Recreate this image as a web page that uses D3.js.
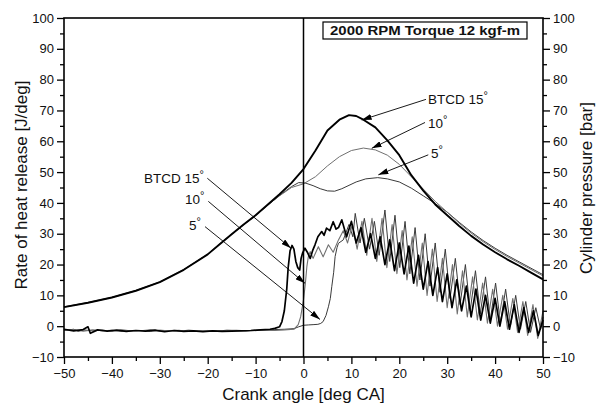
<!DOCTYPE html>
<html><head><meta charset="utf-8">
<script src="https://cdn.jsdelivr.net/npm/d3@7"></script>
<style>body{margin:0;background:#fff}text{font-family:"Liberation Sans",Arial,sans-serif;fill:#111}</style>
</head><body><svg id="c" width="604" height="406"></svg>
<script>
// ---------- data ----------
const xTicks = [-50,-40,-30,-20,-10,0,10,20,30,40,50];
const yTicks = [-10,0,10,20,30,40,50,60,70,80,90,100];
const chartTitle = "2000 RPM Torque 12 kgf-m";
const xLabel = "Crank angle [deg CA]";
const yLeftLabel = "Rate of heat release [J/deg]";
const yRightLabel = "Cylinder pressure [bar]";

// Cylinder pressure [bar]
const p15Ang = [-50,-45,-40,-35,-30,-25,-20,-17.5,-15,-12.5,-10,-7.5,-5,-2.5,0,2.5,5,7.5,9.5,11,12.5,15,17.5,20,22.5,25,27.5,30,32.5,35,37.5,40,42.5,45,47.5,50];
const p15 = [6.2,7.6,9.3,11.5,14.3,18.3,23.3,26.6,29.8,33.0,36.0,39.4,42.8,46.5,51.0,57.0,63.5,67.0,68.5,68.2,67.0,64.5,60.3,55.5,49.0,44.0,39.5,36.0,32.5,29.3,26.5,24.0,21.7,19.6,17.4,15.2];
const p10Ang = [-50,-45,-40,-35,-30,-25,-20,-17.5,-15,-12.5,-10,-7.5,-5,-2.5,0,2.5,5,7.5,10,12.5,15,17.5,20,22.5,25,27.5,30,32.5,35,37.5,40,42.5,45,47.5,50];
const p10 = [6.3,7.7,9.4,11.6,14.4,18.4,23.4,26.7,29.9,33.0,36.0,39.3,42.3,45.0,46.2,48.5,52.0,55.0,57.0,57.8,57.2,55.5,52.5,48.5,44.5,40.5,37.0,33.4,30.2,27.4,24.9,22.6,20.5,18.4,16.3];
const p5Ang = [-50,-45,-40,-35,-30,-25,-20,-17.5,-15,-12.5,-10,-7.5,-5,-2.5,-1,0.5,2,3.5,5,6.5,8,9.5,11,13,15.5,17.5,20,22.5,25,27.5,30,32.5,35,37.5,40,42.5,45,47.5,50];
const p5 = [6.2,7.6,9.3,11.5,14.3,18.3,23.3,26.6,29.8,32.9,35.9,39.2,42.4,45.3,46.6,46.4,45.6,44.6,43.9,43.8,44.6,45.7,46.8,47.8,48.2,47.8,46.8,44.8,42.3,39.8,37.0,33.7,30.6,27.8,25.3,23.0,20.9,18.8,16.7];

// Rate of heat release [J/deg]
const hr15Ang = [-50,-48,-46,-45,-44.5,-43,-41,-39,-37,-35,-33,-31,-29,-27,-25,-23,-21,-19,-17,-15,-13,-11,-9,-7,-6,-5,-4.5,-4,-3.5,-3.2,-2.8,-2.4,-2.0,-1.6,-1.2,-0.8,-0.5,-0.2,0.3,0.8,1.4,1.9,2.4,3.0,3.8,4.3,4.8,5.5,6.2,6.8,7.3,8.0,9,10,11,12,13,14,15,16,17,18,19,20,21,22,23,24,25,26,27,28,29,30,31,32,33,34,35,36,37,38,39,40,41,42,43,44,45,46,47,48,49,50];
const hr15 = [-1.0,-1.5,-1.1,-0.2,-2.3,-1.2,-1.6,-1.3,-1.7,-1.4,-1.6,-1.3,-1.8,-1.4,-1.7,-1.5,-1.8,-1.5,-1.7,-1.6,-1.5,-1.4,-1.2,-1.0,-0.7,-0.2,1.5,5,12,19,24.5,26.2,25,21,19,18.2,22,23.7,25.3,24,22,24.5,26.4,29,30.7,29.5,31.8,31,33.9,31.5,32,34.5,29,34,27,32,24,30,22,29,20,28,18,27,17,26,14,23,12,21,10,19,8,17,6,15,5,13,3,12,2,10,1,9,0,8,-1,7,-2,6,-2,5,-3,2];
const hr10Ang = [-50,-48,-46,-44,-42,-40,-38,-36,-34,-32,-30,-28,-26,-24,-22,-20,-18,-16,-14,-12,-10,-8,-6,-4,-2,-1.1,-0.6,0,0.4,0.7,1.0,1.4,2.0,3.1,4.1,5.2,6.2,7.3,8.3,9.2,10.2,11.2,12.2,13.2,14.3,15.3,16.4,17.4,18.5,19.5,20.6,21.6,22.7,23.7,24.8,25.8,26.9,27.9,29.0,30.0,31.1,32.1,33.2,34.2,35.3,36.3,37.4,38.4,39.5,40.5,41.6,42.6,43.7,44.7,45.8,46.8,47.9,48.9,50];
const hr10 = [-1.3,-1.1,-1.6,-1.2,-1.5,-1.3,-1.7,-1.4,-1.5,-1.2,-1.6,-1.4,-1.3,-1.7,-1.5,-1.4,-1.6,-1.5,-1.3,-1.5,-1.4,-1.3,-1.4,-1.2,-1.0,0.5,3,8.5,14,19.3,22.5,24.2,22,25.8,22.5,26.4,24,28,31,27,33,25,34,23,35,21,35,19,33,17,31,15,29,13,27,10,25,8,22,6,20,4,18,3,16,2,14,1,12,0,10,-1,9,-2,8,-3,7,-4,5];
const hr5Ang = [-50,-48,-47,-46,-44,-42,-40,-38,-36,-34,-32,-30,-28,-26,-24,-22,-20,-18,-16,-14,-12,-10,-8,-6,-4,-2,-1,0,1,2,3,3.6,4.1,4.7,5.2,5.6,5.9,6.3,6.6,7.0,7.3,8.3,9.5,10.3,10.8,11.8,12.7,13.8,14.8,15.8,17.0,18.0,19.1,20.1,21.2,22.2,23.3,24.3,25.4,26.4,27.5,28.5,29.6,30.6,31.7,32.7,33.8,34.8,35.9,36.9,38.0,39.0,40.1,41.1,42.2,43.2,44.3,45.3,46.4,47.4,48.5,49.5,50];
const hr5 = [-1.4,-1.0,-1.7,-1.2,-1.5,-1.3,-1.6,-1.2,-1.5,-1.4,-1.7,-1.3,-1.5,-1.6,-1.3,-1.5,-1.4,-1.6,-1.3,-1.4,-1.5,-1.3,-1.2,-1.1,-1.0,-0.8,-0.2,0.3,0.4,0.5,0.6,0.9,1.5,3.5,6.3,9,12.8,17.5,22.6,25.5,26.9,28,33,29,36.6,27,35,25,34,23,37.7,21,36,19,34,17,32,15,30,13,27,11,25,9,22,7,20,5,18,4,16,2,14,1,12,0,10,-1,8,-2,6,-1,3];

// annotations: [label, labelAngle, labelValue, lineStartAngle, lineStartValue, tipAngle, tipValue]
const annotations = [
  ["BTCD 15", 26.0, 72.1, 25.57, 73.6, 12.15, 66.9],
  ["10", 26.0, 64.4, 25.37, 66.1, 14.24, 57.7],
  ["5", 26.6, 54.6, 26.05, 55.6, 15.62, 49.1],
  ["BTCD 15", -33.3, 46.5, -20.08, 48.0, -2.61, 25.3],
  ["10", -24.74, 39.7, -19.87, 40.5, 0.31, 13.9],
  ["5", -23.9, 31.3, -20.56, 32.3, 3.44, 2.2]
];

// ---------- drawing ----------
const svg = d3.select("#c");
const L=64, R=543, T=18, B=357;
const x = d3.scaleLinear().domain([-50,50]).range([L,R]);
const y = d3.scaleLinear().domain([-10,100]).range([B,T]);
const y2 = d3.scaleLinear().domain([-10,100]).range([B,T]);

svg.append("defs").append("marker").attr("id","arr")
  .attr("viewBox","0 0 10 6").attr("refX",10).attr("refY",3)
  .attr("markerWidth",10).attr("markerHeight",6).attr("markerUnits","userSpaceOnUse")
  .attr("orient","auto").append("path").attr("d","M0,0L10,3L0,6z").attr("fill","#000");

const line = d3.line().x(d=>x(d[0])).y(d=>y(d[1]));
const zip = (a,b)=>a.map((v,i)=>[v,b[i]]);
const series = [
  {a:p5Ang, v:p5, c:"#3a3a3a", w:1},
  {a:p10Ang, v:p10, c:"#707070", w:1},
  {a:hr5Ang, v:hr5, c:"#3a3a3a", w:1},
  {a:hr10Ang, v:hr10, c:"#707070", w:1.1},
  {a:p15Ang, v:p15, c:"#000", w:1.9},
  {a:hr15Ang, v:hr15, c:"#000", w:1.7}
];
series.forEach(s=>{
  svg.append("path").attr("d",line(zip(s.a,s.v))).attr("fill","none")
    .attr("stroke",s.c).attr("stroke-width",s.w).attr("stroke-linejoin","round");
});

// zero line
svg.append("line").attr("x1",x(0)).attr("x2",x(0)).attr("y1",T).attr("y2",B)
  .attr("stroke","#000").attr("stroke-width",1.5);

// axes
const fmt = d3.format("d");
const minorX = d3.range(-45,50,10);
const minorY = d3.range(-5,100,10);
function styleAxis(g){
  g.selectAll(".domain").remove();
  g.selectAll("line").attr("stroke","#000").attr("stroke-width",1.3);
  g.selectAll("text").attr("font-size",13).attr("fill","#111")
    .attr("font-family","'Liberation Sans',Arial,sans-serif");
}
svg.append("g").attr("transform",`translate(0,${B})`)
  .call(d3.axisBottom(x).tickValues(xTicks).tickFormat(fmt).tickSize(7).tickPadding(5)).call(styleAxis);
svg.append("g").attr("transform",`translate(0,${B})`)
  .call(d3.axisBottom(x).tickValues(minorX).tickFormat("").tickSize(4)).call(styleAxis);
svg.append("g").attr("transform",`translate(${L},0)`)
  .call(d3.axisLeft(y).tickValues(yTicks).tickFormat(fmt).tickSize(7).tickPadding(3)).call(styleAxis);
svg.append("g").attr("transform",`translate(${L},0)`)
  .call(d3.axisLeft(y).tickValues(minorY).tickFormat("").tickSize(4)).call(styleAxis);
svg.append("g").attr("transform",`translate(${R},0)`)
  .call(d3.axisRight(y2).tickValues(yTicks).tickFormat(fmt).tickSize(7).tickPadding(3)).call(styleAxis);
svg.append("g").attr("transform",`translate(${R},0)`)
  .call(d3.axisRight(y2).tickValues(minorY).tickFormat("").tickSize(4)).call(styleAxis);

// frame
svg.append("rect").attr("x",L).attr("y",T).attr("width",R-L).attr("height",B-T)
  .attr("fill","none").attr("stroke","#000").attr("stroke-width",1.6);

// axis titles
svg.append("text").attr("x",(L+R)/2).attr("y",400).attr("text-anchor","middle")
  .attr("font-size",17).text(xLabel);
svg.append("text").attr("transform","translate(27,185) rotate(-90)").attr("text-anchor","middle")
  .attr("font-size",17).text(yLeftLabel);
svg.append("text").attr("transform","translate(592,188) rotate(-90)").attr("text-anchor","middle")
  .attr("font-size",17).text(yRightLabel);

// title box
svg.append("rect").attr("x",323).attr("y",22).attr("width",204).attr("height",17)
  .attr("fill","#fff").attr("stroke","#000").attr("stroke-width",1.2);
svg.append("text").attr("x",425).attr("y",35).attr("text-anchor","middle")
  .attr("font-size",12.5).attr("font-weight","bold")
  .attr("textLength",190).attr("lengthAdjust","spacingAndGlyphs").text(chartTitle);

// annotations
annotations.forEach(a=>{
  svg.append("line").attr("x1",x(a[3])).attr("y1",y(a[4])).attr("x2",x(a[5])).attr("y2",y(a[6]))
    .attr("stroke","#000").attr("stroke-width",0.9).attr("marker-end","url(#arr)");
  const t = svg.append("text").attr("x",x(a[1])).attr("y",y(a[2])).attr("font-size",13.5);
  t.append("tspan").text(a[0]);
  t.append("tspan").attr("font-size",11).attr("dy",-5).text("°");
});
</script>
</body></html>
